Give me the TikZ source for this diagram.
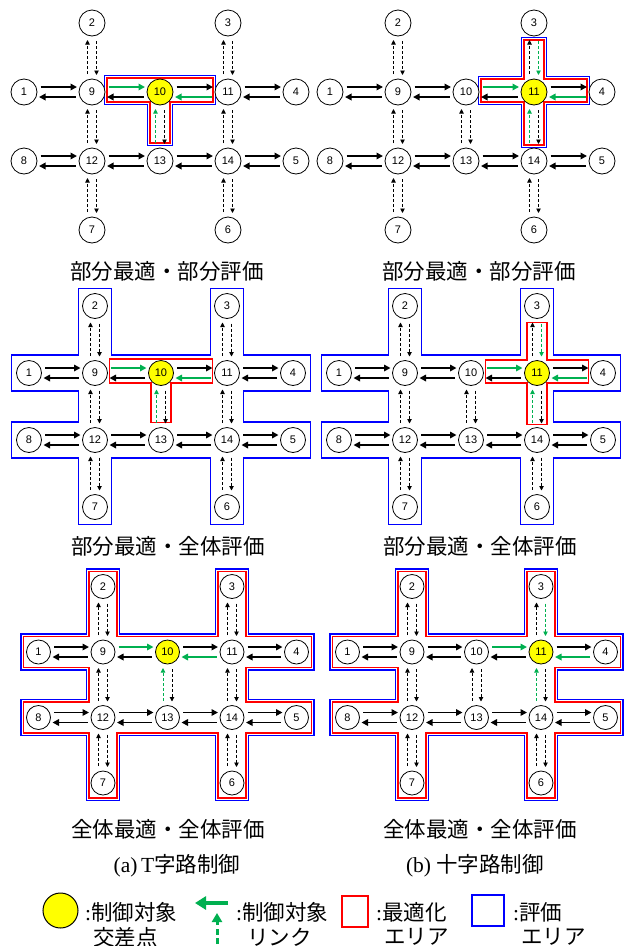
\documentclass[tikz,border=0pt]{standalone}
\usepackage{fontspec}
\setmainfont{Liberation Serif}
\newfontfamily\cjk{Noto Sans CJK JP}
\newfontfamily\numfont{Liberation Sans}
\usetikzlibrary{arrows.meta}
\definecolor{tgreen}{RGB}{0,176,80}
\definecolor{tblue}{RGB}{0,0,255}
\definecolor{tred}{RGB}{255,0,0}
\definecolor{tyellow}{RGB}{255,255,0}
\tikzset{
 nd/.style={circle,draw=black,line width=0.8pt,fill=white,inner sep=0pt,outer sep=0pt,
   minimum size={(2*\rr)*1pt},font=\numfont\fontsize{11}{13}\selectfont},
 harr/.style={line width=1.8pt,-{Triangle[length=6.5pt,width=6.5pt]},shorten <=3.5pt,shorten >=2pt},
 varr/.style={line width=0.9pt,dash pattern=on 3pt off 2pt,-{Triangle[length=4.5pt,width=4.5pt]},shorten <=5pt,shorten >=4pt},
 L1to9/.style={},L9to1/.style={},L9to10/.style={},L10to9/.style={},L10to11/.style={},L11to10/.style={},
 L11to4/.style={},L4to11/.style={},L8to12/.style={},L12to8/.style={},L12to13/.style={},L13to12/.style={},
 L13to14/.style={},L14to13/.style={},L14to5/.style={},L5to14/.style={},
 L2to9/.style={},L9to2/.style={},L9to12/.style={},L12to9/.style={},L12to7/.style={},L7to12/.style={},
 L3to11/.style={},L11to3/.style={},L11to14/.style={},L14to11/.style={},L14to6/.style={},L6to14/.style={},
 L10to13/.style={},L13to10/.style={},
 Tgreen/.style={L9to10/.style={tgreen},L11to10/.style={tgreen},L13to10/.style={tgreen}},
 Xgreen/.style={L10to11/.style={tgreen},L4to11/.style={tgreen},L3to11/.style={tgreen},L14to11/.style={tgreen}},
 captext/.style={font=\cjk\fontsize{21.5}{24}\selectfont,inner sep=0pt},
 lt/.style={font=\fontsize{21.5}{24}\selectfont,inner sep=0pt,anchor=west},
 redline/.style={draw=tred,line width=1.4pt},
 blueline/.style={draw=tblue,line width=1.6pt},
 redhash/.style={draw=tred,line width=1.1pt},
 bluehash/.style={draw=tblue,line width=1.2pt},
}
\newcommand\nd[4]{\ifnum#2=\yel\relax
 \node[nd,fill=tyellow] (#1-#2) at ({#3},{#4}) {#2};\else
 \node[nd] (#1-#2) at ({#3},{#4}) {#2};\fi}
\newcommand\hl[3]{%
 \draw[harr,L#2to#3] ([yshift=5pt]#1-#2.east) -- ([yshift=5pt]#1-#3.west);
 \draw[harr,L#3to#2] ([yshift=-5pt]#1-#3.west) -- ([yshift=-5pt]#1-#2.east);}
\newcommand\vl[3]{%
 \draw[varr,L#3to#2] ([xshift=-4.5pt]#1-#3.north) -- ([xshift=-4.5pt]#1-#2.south);
 \draw[varr,L#2to#3] ([xshift=4.5pt]#1-#2.south) -- ([xshift=4.5pt]#1-#3.north);}
\newcommand\net[1]{%
 \nd{#1}{1}{-\sx}{0}\nd{#1}{9}{0}{0}\nd{#1}{10}{\sx}{0}\nd{#1}{11}{2*\sx}{0}\nd{#1}{4}{3*\sx}{0}%
 \nd{#1}{2}{0}{-\sy}\nd{#1}{3}{2*\sx}{-\sy}%
 \nd{#1}{8}{-\sx}{\sy}\nd{#1}{12}{0}{\sy}\nd{#1}{13}{\sx}{\sy}\nd{#1}{14}{2*\sx}{\sy}\nd{#1}{5}{3*\sx}{\sy}%
 \nd{#1}{7}{0}{2*\sy}\nd{#1}{6}{2*\sx}{2*\sy}%
 \hl{#1}{1}{9}\hl{#1}{9}{10}\hl{#1}{10}{11}\hl{#1}{11}{4}%
 \hl{#1}{8}{12}\hl{#1}{12}{13}\hl{#1}{13}{14}\hl{#1}{14}{5}%
 \vl{#1}{2}{9}\vl{#1}{9}{12}\vl{#1}{12}{7}\vl{#1}{3}{11}\vl{#1}{11}{14}\vl{#1}{14}{6}\vl{#1}{10}{13}}
% T shape around node 10: #1 offset, #2 style
\newcommand\Tshape[2]{\draw[#2] ({\rr+2-#1},{-14-#1}) -- ({2*\sx-\rr-2+#1},{-14-#1})
 -- ({2*\sx-\rr-2+#1},{10+#1}) -- ({\sx+10+#1},{10+#1}) -- ({\sx+10+#1},{\sy-\rr-5+#1})
 -- ({\sx-10-#1},{\sy-\rr-5+#1}) -- ({\sx-10-#1},{10+#1}) -- ({\rr+2-#1},{10+#1}) -- cycle;}
% cross shape around node 11
\newcommand\Xshape[2]{\draw[#2] ({2*\sx-10-#1},{-\sy+\rr+4-#1}) -- ({2*\sx+10+#1},{-\sy+\rr+4-#1})
 -- ({2*\sx+10+#1},{-13-#1}) -- ({3*\sx-\rr-2+#1},{-13-#1}) -- ({3*\sx-\rr-2+#1},{10+#1})
 -- ({2*\sx+10+#1},{10+#1}) -- ({2*\sx+10+#1},{\sy-\rr-3+#1}) -- ({2*\sx-10-#1},{\sy-\rr-3+#1})
 -- ({2*\sx-10-#1},{10+#1}) -- ({\sx+\rr+2-#1},{10+#1}) -- ({\sx+\rr+2-#1},{-13-#1})
 -- ({2*\sx-10-#1},{-13-#1}) -- cycle;}
% whole network outline: a b e style
\newcommand\Hshape[4]{\draw[#4] ({-#1},{-\sy-#3}) -- ({#1},{-\sy-#3}) -- ({#1},{-#2})
 -- ({2*\sx-#1},{-#2}) -- ({2*\sx-#1},{-\sy-#3}) -- ({2*\sx+#1},{-\sy-#3}) -- ({2*\sx+#1},{-#2})
 -- ({3*\sx+#3},{-#2}) -- ({3*\sx+#3},{#2}) -- ({2*\sx+#1},{#2}) -- ({2*\sx+#1},{\sy-#2})
 -- ({3*\sx+#3},{\sy-#2}) -- ({3*\sx+#3},{\sy+#2}) -- ({2*\sx+#1},{\sy+#2}) -- ({2*\sx+#1},{2*\sy+#3})
 -- ({2*\sx-#1},{2*\sy+#3}) -- ({2*\sx-#1},{\sy+#2}) -- ({#1},{\sy+#2}) -- ({#1},{2*\sy+#3})
 -- ({-#1},{2*\sy+#3}) -- ({-#1},{\sy+#2}) -- ({-\sx-#3},{\sy+#2}) -- ({-\sx-#3},{\sy-#2})
 -- ({-#1},{\sy-#2}) -- ({-#1},{#2}) -- ({-\sx-#3},{#2}) -- ({-\sx-#3},{-#2}) -- ({-#1},{-#2}) -- cycle;}
\begin{document}
\begin{tikzpicture}[x=1pt,y=-1pt]
\fill[white] (0,0) rectangle (629,946);
\useasboundingbox (0,0) rectangle (629,946);
% panel 1
\begin{scope}[shift={(92,92)},Tgreen]
 \def\sx{68}\def\sy{69}\def\rr{13}\def\yel{10}
 \Tshape{2.5}{blueline}\Tshape{0}{redline}
 \net{a}
\end{scope}
% panel 2
\begin{scope}[shift={(398,92)},Xgreen]
 \def\sx{68}\def\sy{69}\def\rr{13}\def\yel{11}
 \Xshape{2.5}{blueline}\Xshape{0}{redline}
 \net{b}
\end{scope}
% panel 3
\begin{scope}[shift={(95,373)},Tgreen]
 \def\sx{66}\def\sy{67}\def\rr{12.5}\def\yel{10}
 \Hshape{16.5}{18}{17.5}{bluehash}\Tshape{0}{redline}
 \net{c}
\end{scope}
% panel 4
\begin{scope}[shift={(405,373)},Xgreen]
 \def\sx{66}\def\sy{67}\def\rr{12.5}\def\yel{11}
 \Hshape{16.5}{18}{17.5}{bluehash}\Xshape{0}{redline}
 \net{d}
\end{scope}
% panel 5
\begin{scope}[shift={(103,652)},Tgreen]
 \def\sx{64.5}\def\sy{65.5}\def\rr{12}\def\yel{10}
 \Hshape{16.5}{18}{17.5}{bluehash}\Hshape{14}{15.5}{15}{redhash}
 \net{e}
\end{scope}
% panel 6
\begin{scope}[shift={(412,652)},Xgreen]
 \def\sx{64.5}\def\sy{65.5}\def\rr{12}\def\yel{11}
 \Hshape{16.5}{18}{17.5}{bluehash}\Hshape{14}{15.5}{15}{redhash}
 \net{f}
\end{scope}
% captions
\node[captext] (c1) at (167,271) {部分最適・部分評価};
\node[captext] (c2) at (479,271) {部分最適・部分評価};
\node[captext] (c3) at (168,546) {部分最適・全体評価};
\node[captext] (c4) at (480,546) {部分最適・全体評価};
\node[captext] (c5) at (168,829) {全体最適・全体評価};
\node[captext] (c6) at (480,829) {全体最適・全体評価};
\node[captext] (c7) at (177,866) {{\rmfamily (a)\,T}字路制御};
\node[captext] (c8) at (475,866) {{\rmfamily (b) }十字路制御};
% legend
\node[circle,draw=black,line width=1pt,fill=tyellow,minimum size=35pt,inner sep=0pt] (lgy) at (60.5,910.5) {};
\node[lt] (lgyt) at (85,912) {:{\cjk 制御対象}};
\node[lt] (lgyt2) at (93,937) {\cjk 交差点};
\coordinate (ga1) at (228,903);
\coordinate (ga2) at (195,903);
\draw[tgreen,line width=3.5pt,-{Triangle[length=11pt,width=13pt]}] (ga1) -- (ga2);
\coordinate (gb1) at (217,944);
\coordinate (gb2) at (217,913);
\draw[tgreen,line width=3pt,dash pattern=on 6pt off 3.5pt,-{Triangle[length=9pt,width=10pt]}] (gb1) -- (gb2);
\node[lt] (lglt) at (236,912) {:{\cjk 制御対象}};
\node[lt] (lglt2) at (247,937) {\cjk リンク};
\node[draw=tred,line width=2.2pt,minimum width=26pt,minimum height=31pt,inner sep=0pt] (lgr) at (355,911.5) {};
\node[lt] (lgrt) at (376,912) {:{\cjk 最適化}};
\node[lt] (lgrt2) at (384,937) {\cjk エリア};
\node[draw=tblue,line width=2.2pt,minimum width=32pt,minimum height=31pt,inner sep=0pt] (lgb) at (488,910.5) {};
\node[lt] (lgbt) at (513,912) {:{\cjk 評価}};
\node[lt] (lgbt2) at (521,937) {\cjk エリア};
\end{tikzpicture}
\end{document}
